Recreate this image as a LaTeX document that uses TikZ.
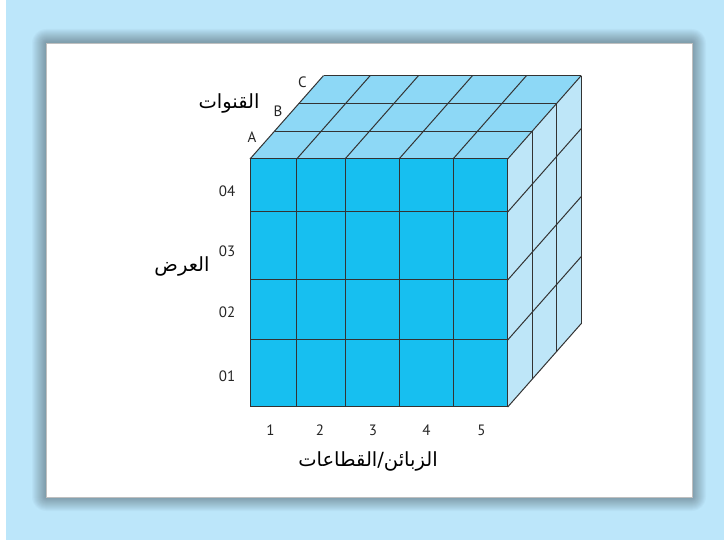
\documentclass[tikz,border=0pt]{standalone}
\usepackage{fontspec}
\TeXXeTstate=1
\newfontfamily\arabicfont[Script=Arabic]{DejaVu Sans}
\newfontfamily\labfont{PT Sans}
\definecolor{bgblue}{HTML}{BCE6FA}
\definecolor{frontc}{HTML}{17BFF0}
\definecolor{topc}{HTML}{8DD8F6}
\definecolor{sidec}{HTML}{BEE6F8}
\definecolor{edgec}{HTML}{333333}
\tikzset{
  gridline/.style={draw=edgec, line width=1pt, line join=round},
  numlab/.style={font=\labfont\fontsize{15}{17}\selectfont, text=black!85, inner sep=0pt},
  arlab/.style={font=\arabicfont\fontsize{19.5}{22}\selectfont, text=black, inner sep=0pt}
}
\begin{document}
\begin{tikzpicture}[x=1pt,y=-1pt]
\useasboundingbox (0,0) rectangle (724,540);
\fill[white] (0,0) rectangle (724,540);
\fill[bgblue] (6,0) rectangle (724,540);
% shadow
\foreach \i in {1,...,14}{
  \fill[black, opacity=0.022, rounded corners=\i pt] (46-\i,43-\i) rectangle (692+\i,497+\i);
}
\fill[white] (46,43) rectangle (692,497);
\draw[black!25, line width=0.6pt] (46,43) rectangle (692,497);
% cube geometry
\def\dx{24.5}
\def\dy{-27.8}
% faces
\fill[frontc] (250,159) rectangle (507.7,407);
\fill[topc] (250,159) -- (507.7,159) -- ++(3*\dx,3*\dy) -- (250+3*\dx,159+3*\dy) -- cycle;
\fill[sidec] (507.7,159) -- ++(3*\dx,3*\dy) -- (507.7+3*\dx,407+3*\dy) -- (507.7,407) -- cycle;
% front grid
\foreach \x in {250,296.7,345,399,453,507.7}{
  \draw[gridline] (\x,159) -- (\x,407);
}
\foreach \y in {159,212,280,340,407}{
  \draw[gridline] (250,\y) -- (507.7,\y);
}
% top grid
\foreach \k in {1,2,3}{
  \draw[gridline] (250+\k*\dx,159+\k*\dy) -- (507.7+\k*\dx,159+\k*\dy);
}
\foreach \x in {250,296.7,345,399,453,507.7}{
  \draw[gridline] (\x,159) -- (\x+3*\dx,159+3*\dy);
}
% side grid
\foreach \k in {1,2,3}{
  \draw[gridline] (507.7+\k*\dx,159+\k*\dy) -- (507.7+\k*\dx,407+\k*\dy);
}
\foreach \y in {212,280,340,407}{
  \draw[gridline] (507.7,\y) -- (507.7+3*\dx,\y+3*\dy);
}
% labels
\node[numlab] (r4) at (227,191.5) {04};
\node[numlab] (r3) at (227,251.5) {03};
\node[numlab] (r2) at (227,312) {02};
\node[numlab] (r1) at (227,376) {01};
\node[numlab] (c1) at (270.5,430) {1};
\node[numlab] (c2) at (320,430) {2};
\node[numlab] (c3) at (373,430) {3};
\node[numlab] (c4) at (426.5,430) {4};
\node[numlab] (c5) at (481.5,430) {5};
\node[numlab] (la) at (252,137) {A};
\node[numlab] (lb) at (278,111) {B};
\node[numlab] (lc) at (302.5,82.5) {C};
\node[arlab] (ch) at (229,103) {\beginR القنوات\endR};
\node[arlab] (wd) at (182,266) {\beginR العرض\endR};
\node[arlab] (cu) at (368,461) {\beginR الزبائن/القطاعات\endR};
\end{tikzpicture}
\end{document}
